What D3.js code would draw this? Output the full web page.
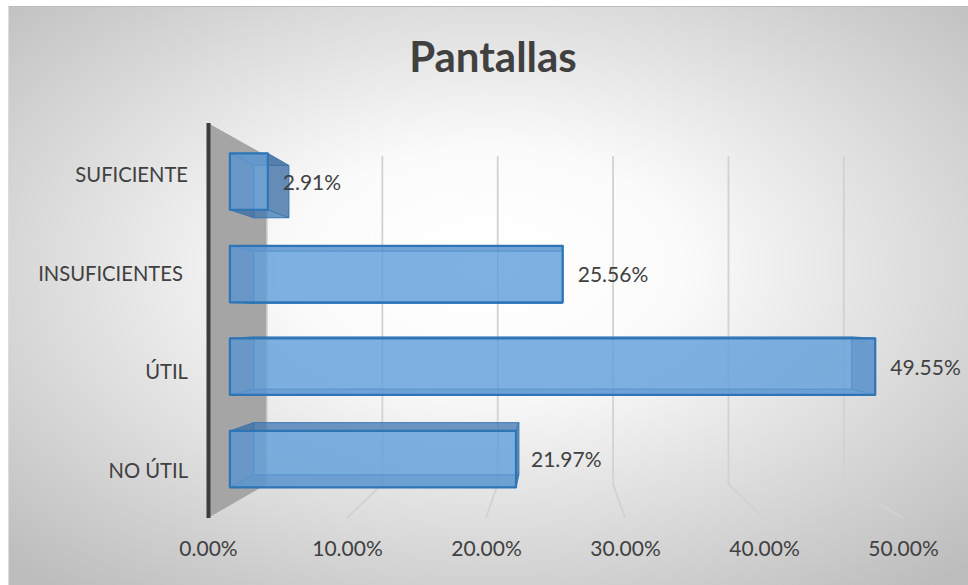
<!DOCTYPE html>
<html>
<head>
<meta charset="utf-8">
<script src="https://cdn.jsdelivr.net/npm/d3@7"></script>
<style>
  html, body { margin: 0; padding: 0; background: #ffffff; }
  svg { display: block; }
  text { font-family: Lato, "Open Sans", sans-serif; fill: #404040; }
</style>
</head>
<body>
<svg id="chart" width="968" height="585"></svg>
<script>
// Survey answers about screens ("Pantallas"), share of responses per category
const categories = ["NO ÚTIL", "ÚTIL", "INSUFICIENTES ", "SUFICIENTE"];
const values = [21.97, 49.55, 25.56, 2.91];
const tickValues = [0, 10, 20, 30, 40, 50];
const title = "Pantallas";

const W = 968, H = 585;
const svg = d3.select("#chart");
const defs = svg.append("defs");

// Chart area background: radial grey-to-white fill
const bg = defs.append("radialGradient")
  .attr("id", "bgGrad")
  .attr("cx", "0.5").attr("cy", "0.45").attr("r", "0.72");
bg.append("stop").attr("offset", "0").attr("stop-color", "#ffffff");
bg.append("stop").attr("offset", "0.28").attr("stop-color", "#fbfbfb");
bg.append("stop").attr("offset", "1").attr("stop-color", "#bcbcbc");

svg.append("rect")
  .attr("x", 8).attr("y", 6).attr("width", W - 8).attr("height", H - 6)
  .attr("fill", "url(#bgGrad)");
svg.append("line").attr("x1", 8).attr("x2", W).attr("y1", 6.5).attr("y2", 6.5)
  .attr("stroke", "#bdbdbd").attr("stroke-width", 1);
svg.append("line").attr("x1", 8.5).attr("x2", 8.5).attr("y1", 6).attr("y2", H)
  .attr("stroke", "#dcdcdc").attr("stroke-width", 1);

// Front-plane scales of the 3-D plot box
const x = d3.scaleLinear().domain([0, 50]).range([208, 903]);
const y = d3.scaleBand()
  .domain(categories.slice().reverse())
  .range([123, 518])
  .paddingInner(0.39)
  .paddingOuter(0.195);

// Perspective: points shrink toward a vanishing point as depth grows
const vp = [555, 318];
const kBack = 0.83;        // back wall / far edge of the floor
const kBarFront = 0.937;   // near face of each bar
const kBarBack = 0.868;    // far face of each bar
const P = (X, Y, k) => [vp[0] + (X - vp[0]) * k, vp[1] + (Y - vp[1]) * k];
const poly = pts => "M" + pts.map(p => p[0].toFixed(2) + "," + p[1].toFixed(2)).join("L") + "Z";

const [yTop, yBot] = y.range();

// Gridlines: vertical on the back wall, then across the floor to the front edge
const grid = svg.append("g").attr("fill", "none")
  .attr("stroke", "#d2d2d2").attr("stroke-width", 1.8);
tickValues.filter(t => t > 0).forEach(t => {
  const a = P(x(t), yTop, kBack), b = P(x(t), yBot, kBack), c = P(x(t), yBot, 1);
  grid.append("path").attr("d", `M${a[0]},${a[1]}L${b[0]},${b[1]}L${c[0]},${c[1]}`);
});

// Side wall at the value axis origin
const x0 = x(0);
svg.append("path")
  .attr("d", poly([P(x0, yTop, 1), P(x0, yTop, kBack), P(x0, yBot, kBack), P(x0, yBot, 1)]))
  .attr("fill", "#a5a5a5");
svg.append("line")
  .attr("x1", P(x0, yTop, kBack)[0]).attr("x2", P(x0, yBot, kBack)[0])
  .attr("y1", P(x0, yTop, kBack)[1]).attr("y2", P(x0, yBot, kBack)[1])
  .attr("stroke", "#d0d0d0").attr("stroke-width", 1.5);
svg.append("rect")
  .attr("x", x0 - 1.5).attr("y", yTop).attr("width", 4).attr("height", yBot - yTop)
  .attr("fill", "#3d3d3d");

// Translucent 3-D bars
const barsG = svg.append("g");
categories.forEach((cat, i) => {
  const v = values[i];
  const X0 = x(0), X1 = x(v);
  const Y0 = y(cat), Y1 = Y0 + y.bandwidth();
  const f = (X, Y) => P(X, Y, kBarFront);
  const b = (X, Y) => P(X, Y, kBarBack);
  const g = barsG.append("g");
  const faces = [
    { pts: [b(X0, Y0), b(X1, Y0), b(X1, Y1), b(X0, Y1)], fill: "#5b9bd5", op: 0.45 },
    { pts: [f(X0, Y0), f(X1, Y0), b(X1, Y0), b(X0, Y0)], fill: "#3f72aa", op: 0.6 },
    { pts: [f(X0, Y1), f(X1, Y1), b(X1, Y1), b(X0, Y1)], fill: "#3f72aa", op: 0.6 },
    { pts: [f(X0, Y0), f(X0, Y1), b(X0, Y1), b(X0, Y0)], fill: "#3d6a9c", op: 0.45 },
    { pts: [f(X1, Y0), f(X1, Y1), b(X1, Y1), b(X1, Y0)], fill: "#3d6a9c", op: 0.65 }
  ];
  faces.forEach(fc => {
    g.append("path").attr("d", poly(fc.pts))
      .attr("fill", fc.fill).attr("fill-opacity", fc.op)
      .attr("stroke", "#2e75b6").attr("stroke-opacity", 0.55).attr("stroke-width", 1)
      .attr("stroke-linejoin", "round");
  });
  g.append("path").attr("d", poly([f(X0, Y0), f(X1, Y0), f(X1, Y1), f(X0, Y1)]))
    .attr("fill", "#62a0dc").attr("fill-opacity", 0.66)
    .attr("stroke", "#2e75b6").attr("stroke-width", 2.2)
    .attr("stroke-linejoin", "round");

  // Value label to the right of the bar
  const fr = f(X1, (Y0 + Y1) / 2);
  svg.append("text")
    .attr("x", fr[0] + 15).attr("y", fr[1] + 1).attr("dy", "0.35em")
    .attr("font-size", 21)
    .text(v.toFixed(2) + "%");
});

// Category axis (labels only)
const yAxis = d3.axisLeft(y).tickSize(0).tickPadding(0);
const gy = svg.append("g").attr("transform", "translate(188,3)").call(yAxis);
gy.select(".domain").remove();
gy.selectAll("text").attr("font-size", 20.2).attr("fill", "#404040")
  .style("white-space", "pre").attr("font-family", "Lato, 'Open Sans', sans-serif");

// Value axis (labels only, on the front edge of the floor)
const xAxis = d3.axisBottom(x).tickValues(tickValues).tickSize(0).tickPadding(0)
  .tickFormat(d => d3.format(".2f")(d) + "%");
const gx = svg.append("g").attr("transform", "translate(0,541)").call(xAxis);
gx.select(".domain").remove();
gx.selectAll("text").attr("font-size", 21).attr("fill", "#404040")
  .attr("font-family", "Lato, 'Open Sans', sans-serif");

// Title
svg.append("text")
  .attr("x", 493).attr("y", 72)
  .attr("text-anchor", "middle")
  .attr("font-size", 42).attr("font-weight", "bold")
  .text(title);
</script>
</body>
</html>
